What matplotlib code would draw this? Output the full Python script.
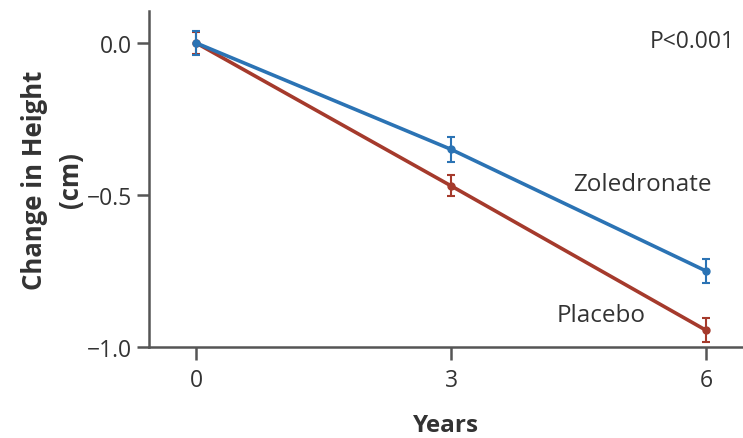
import matplotlib
matplotlib.use("Agg")
import matplotlib.pyplot as plt

years = [0, 3, 6]
zoledronate = [0.0, -0.35, -0.75]
zoledronate_err = [0.04, 0.04, 0.04]
placebo = [0.0, -0.47, -0.945]
placebo_err = [0.035, 0.035, 0.04]
x_ticks = [0, 3, 6]
y_ticks = [0.0, -0.5, -1.0]
y_tick_labels = ["0.0", "\u22120.5", "\u22121.0"]

plt.rcParams["font.family"] = ["Open Sans", "DejaVu Sans"]

W, H = 743, 439
fig = plt.figure(figsize=(W / 100, H / 100), dpi=100)
ax = fig.add_axes([149 / W, 1 - 348 / H, (W - 149) / W, (348 - 12) / H])

blue = "#2b73b4"
red = "#a53a2c"
axis_col = "#555555"
text_col = "#333333"

ax.errorbar(years, placebo, yerr=placebo_err, color=red, lw=2.6, marker="o",
            ms=5, capsize=3, elinewidth=1.5, capthick=1.5, zorder=2)
ax.errorbar(years, zoledronate, yerr=zoledronate_err, color=blue, lw=2.6, marker="o",
            ms=5, capsize=3, elinewidth=1.5, capthick=1.5, zorder=3)

ax.set_xlim(-0.553, 6.435)
ax.set_ylim(-1.0, 0.105)
ax.set_xticks(x_ticks)
ax.set_yticks(y_ticks)
ax.set_yticklabels(y_tick_labels)

for s in ["top", "right"]:
    ax.spines[s].set_visible(False)
for s in ["left", "bottom"]:
    ax.spines[s].set_color(axis_col)
    ax.spines[s].set_linewidth(1.8)
ax.tick_params(axis="both", direction="out", length=9, width=1.8, color=axis_col,
               labelsize=16.5, labelcolor=text_col)
ax.tick_params(axis="y", pad=3)
ax.tick_params(axis="x", pad=6)

ax.set_xlabel("Years", fontsize=17.5, fontweight="bold", color=text_col, labelpad=15)
ax.set_ylabel("Change in Height\n(cm)", fontsize=18.5, fontweight="bold", color=text_col,
              labelpad=2, linespacing=1.45)

ax.text(4.44, -0.465, "Zoledronate", fontsize=17.5, color=text_col, va="center", ha="left")
ax.text(4.24, -0.895, "Placebo", fontsize=17.5, color=text_col, va="center", ha="left")
fig.text(650 / W, 1 - 42 / H, "P<0.001", fontsize=16.5, color=text_col, va="center", ha="left")

fig.savefig("out.png", dpi=100)
